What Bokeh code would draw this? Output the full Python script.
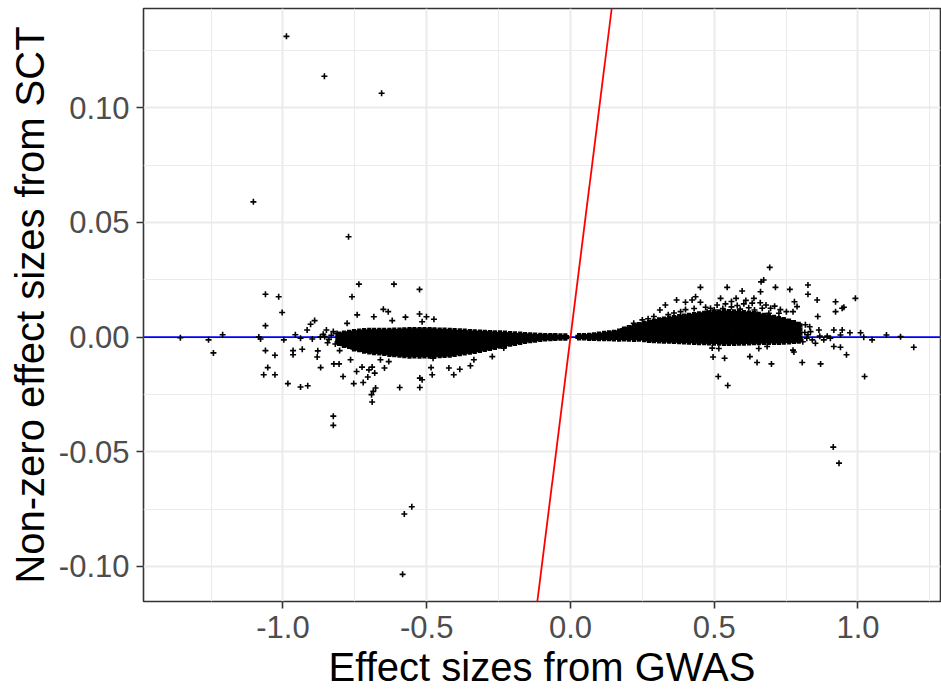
from bokeh.plotting import figure
from bokeh.models import FixedTicker, PrintfTickFormatter, Span, Slope, Range1d, ColumnDataSource
from bokeh.embed import file_html
from bokeh.resources import INLINE

# ---- data ----
x_ticks = [-1.0, -0.5, 0.0, 0.5, 1.0]
x_minor = [-1.25, -0.75, -0.25, 0.25, 0.75, 1.25]
y_ticks = [-0.10, -0.05, 0.0, 0.05, 0.10]
y_minor = [-0.075, -0.025, 0.025, 0.075, 0.125]

# isolated outliers
out_x = [-0.988, -0.856, -0.657, -1.103, -0.772, -0.690, -0.825, -0.825, -0.552, -0.578, -0.584, 0.914, 0.934,
         -1.357, -1.259, -1.242, -1.210]
out_y = [0.1312, 0.1138, 0.1064, 0.0590, 0.0438, -0.0283, -0.0345, -0.0385, -0.0740, -0.0772, -0.1035, -0.0480, -0.0550,
         -0.0003, -0.0012, -0.0069, 0.0010]

# scattered points of the negative cluster
left_x = [-1.061, -1.015, -1.003, -1.061, -1.084, -1.078, -0.997, -1.061, -1.028, -1.053, -1.067, -1.028, -0.983,
          -0.939, -0.914, -0.965, -0.965, -0.933, -0.957, -0.939, -0.916, -0.904, -0.890, -0.898, -0.870, -0.879,
          -0.881, -0.869, -0.849, -0.825, -0.823, -0.803, -0.805, -0.791, -0.777, -0.765, -0.760, -0.736, -0.742,
          -0.754, -0.744, -0.725, -0.721, -0.705, -0.701, -0.690, -0.681, -0.686, -0.692, -0.678, -0.684, -0.651,
          -0.634, -0.620, -0.614, -0.647, -0.661, -0.632, -0.594, -0.574, -0.525, -0.525, -0.516, -0.501, -0.475,
          -0.524, -0.516, -0.524, -0.485, -0.481, -0.478, -0.423, -0.406, -0.385, -0.348, -0.336, -0.272, -0.232,
          -0.855, -0.840, -0.832, -0.845, -0.860, -0.812, -0.818]
left_y = [0.0187, 0.0176, 0.0107, 0.0050, 0.0000, -0.0008, -0.0012, -0.0059, -0.0079, -0.0133, -0.0164, -0.0164,
          -0.0203, -0.0218, -0.0212, -0.0059, -0.0077, -0.0053, 0.0010, -0.0005, 0.0031, 0.0056, 0.0072, -0.0008,
          0.0000, -0.0060, -0.0087, -0.0133, 0.0031, 0.0024, -0.0117, -0.0059, -0.0117, -0.0172, 0.0060, -0.0099,
          0.0176, 0.0231, 0.0097, -0.0203, -0.0150, -0.0131, -0.0198, -0.0174, -0.0143, -0.0131, -0.0157, -0.0237,
          -0.0251, -0.0222, 0.0089, 0.0121, 0.0111, 0.0072, 0.0231, -0.0135, -0.0099, -0.0107, -0.0220, 0.0087,
          0.0208, 0.0101, 0.0067, 0.0089, 0.0078, -0.0179, -0.0186, -0.0220, -0.0133, -0.0164, -0.0092, -0.0135,
          -0.0164, -0.0140, -0.0125, -0.0099, -0.0085, -0.0048,
          0.0002, -0.0010, 0.0008, -0.0025, 0.0012, 0.0016, -0.0030]

# scattered points of the positive cluster
right_x = [0.693, 0.663, 0.672, 0.661, 0.713, 0.452, 0.545, 0.597, 0.638, 0.763, 0.826, 0.826, 0.858, 0.922, 0.991,
           0.945, 0.922, 0.951, 0.779, 0.788, 0.774, 0.751, 0.369, 0.400, 0.423, 0.435, 0.452, 0.311, 0.330, 0.383,
           0.400, 0.522, 0.576, 0.603, 0.632, 0.580, 0.667, 0.696, 0.725, 0.539, 0.510, 0.487, 0.475, 0.690, 0.649,
           0.493, 0.516, 0.496, 0.536, 0.514, 0.547, 0.624, 0.649, 0.655, 0.684, 0.699, 0.774, 0.777, 0.806, 0.870,
           0.916, 0.939, 0.960, 1.023, 1.194,
           0.835, 0.864, 0.881, 0.904, 0.939, 0.972, 1.009, 1.020, 1.049, 1.099, 1.148, 0.841, 0.852, 0.867, 0.893,
           0.832, 0.817, 0.945, 0.916, 0.860, 0.815, 0.822, 0.808, 0.826,
           0.47, 0.50, 0.53, 0.56, 0.59, 0.62, 0.64, 0.56, 0.61, 0.66, 0.68, 0.71, 0.73, 0.43, 0.36, 0.34, 0.29,
           0.27, 0.25, 0.22]
right_y = [0.0304, 0.0241, 0.0249, 0.0198, 0.0217, 0.0217, 0.0217, 0.0201, 0.0169, 0.0208, 0.0227, 0.0187, 0.0162,
           0.0154, 0.0169, 0.0126, 0.0111, 0.0130, 0.0154, 0.0133, 0.0111, 0.0111, 0.0162, 0.0152, 0.0162, 0.0176,
           0.0152, 0.0118, 0.0140, 0.0111, 0.0120, 0.0169, 0.0169, 0.0145, 0.0148, 0.0138, 0.0126, 0.0126, 0.0104,
           0.0145, 0.0140, 0.0126, 0.0111, 0.0104, 0.0100,
           -0.0048, -0.0050, -0.0087, -0.0092, -0.0172, -0.0211, -0.0085, -0.0111, -0.0050, -0.0041, -0.0117,
           -0.0057, -0.0065, -0.0111, -0.0117, -0.0041, -0.0044, -0.0077, -0.0172, -0.0044,
           0.0024, 0.0031, -0.0012, -0.0005, 0.0009, 0.0019, 0.0019, -0.0001, -0.0012, 0.0009, 0.0002, -0.0012,
           -0.0027, 0.0004, 0.0004, 0.0045, 0.0054, 0.0031, 0.0031, 0.0090, 0.0020, -0.0005, -0.0020, 0.0010,
           0.0130, 0.0118, 0.0125, 0.0132, 0.0122, 0.0128, 0.0118, 0.0155, 0.0160, 0.0150, 0.0140, 0.0135, 0.0120,
           0.0125, 0.0105, 0.0098, 0.0090, 0.0080, 0.0075, 0.0060]

# dense core of the negative cluster: column positions and the y values in each column
left_core_x = [-0.805, -0.788, -0.770, -0.753, -0.735, -0.718, -0.700, -0.683, -0.665, -0.648, -0.630, -0.613,
               -0.595, -0.578, -0.560, -0.543, -0.525, -0.508, -0.490, -0.473, -0.455, -0.438, -0.420, -0.403,
               -0.385, -0.368, -0.350, -0.333, -0.315, -0.298, -0.280, -0.263, -0.245, -0.228, -0.210, -0.193,
               -0.175, -0.158, -0.140, -0.123, -0.105, -0.088, -0.070, -0.053, -0.035, -0.018]
left_core_y = [
    [0.0008, -0.0008, -0.0022],
    [0.0012, -0.0004, -0.0020, -0.0031],
    [0.0016, 0.0000, -0.0018, -0.0036],
    [0.0019, 0.0003, -0.0014, -0.0031, -0.0046],
    [0.0021, 0.0004, -0.0014, -0.0032, -0.0050],
    [0.0023, 0.0006, -0.0011, -0.0028, -0.0045, -0.0056],
    [0.0024, 0.0007, -0.0011, -0.0029, -0.0046, -0.0060],
    [0.0024, 0.0006, -0.0012, -0.0030, -0.0048, -0.0063],
    [0.0024, 0.0008, -0.0010, -0.0028, -0.0046, -0.0064],
    [0.0024, 0.0006, -0.0012, -0.0030, -0.0048, -0.0066],
    [0.0024, 0.0008, -0.0010, -0.0028, -0.0046, -0.0062, -0.0070],
    [0.0025, 0.0007, -0.0011, -0.0029, -0.0047, -0.0065, -0.0072],
    [0.0026, 0.0009, -0.0009, -0.0027, -0.0045, -0.0063, -0.0074],
    [0.0027, 0.0009, -0.0009, -0.0027, -0.0045, -0.0063, -0.0076],
    [0.0028, 0.0010, -0.0008, -0.0026, -0.0044, -0.0062, -0.0078],
    [0.0028, 0.0011, -0.0007, -0.0025, -0.0043, -0.0061, -0.0077],
    [0.0028, 0.0010, -0.0008, -0.0026, -0.0044, -0.0062, -0.0078],
    [0.0028, 0.0011, -0.0007, -0.0025, -0.0043, -0.0061, -0.0077],
    [0.0028, 0.0010, -0.0008, -0.0026, -0.0044, -0.0062, -0.0078],
    [0.0027, 0.0011, -0.0007, -0.0025, -0.0043, -0.0061, -0.0077],
    [0.0026, 0.0009, -0.0009, -0.0027, -0.0045, -0.0063, -0.0076],
    [0.0025, 0.0010, -0.0008, -0.0026, -0.0044, -0.0062, -0.0075],
    [0.0024, 0.0008, -0.0010, -0.0028, -0.0046, -0.0064, -0.0074],
    [0.0023, 0.0007, -0.0011, -0.0029, -0.0047, -0.0063, -0.0070],
    [0.0022, 0.0006, -0.0012, -0.0030, -0.0048, -0.0067],
    [0.0021, 0.0005, -0.0013, -0.0031, -0.0049, -0.0064],
    [0.0019, 0.0004, -0.0014, -0.0032, -0.0048, -0.0061],
    [0.0018, 0.0002, -0.0016, -0.0034, -0.0050, -0.0057],
    [0.0017, 0.0001, -0.0017, -0.0035, -0.0053],
    [0.0016, 0.0000, -0.0018, -0.0034, -0.0049],
    [0.0015, -0.0001, -0.0019, -0.0034, -0.0044],
    [0.0014, -0.0002, -0.0020, -0.0035, -0.0040],
    [0.0013, -0.0003, -0.0019, -0.0035],
    [0.0012, -0.0003, -0.0018, -0.0031],
    [0.0010, -0.0005, -0.0019, -0.0026],
    [0.0009, -0.0005, -0.0022],
    [0.0008, -0.0005, -0.0018],
    [0.0006, -0.0005, -0.0014],
    [0.0005, -0.0005, -0.0011],
    [0.0004, -0.0004, -0.0008],
    [0.0003, -0.0005],
    [0.0002, -0.0003],
    [0.0001, -0.0002],
    [0.0001, -0.0001],
    [0.0000],
    [0.0000],
]

# dense core of the positive cluster
right_core_x = [0.030, 0.047, 0.065, 0.082, 0.099, 0.117, 0.134, 0.151, 0.169, 0.186, 0.203, 0.221, 0.238, 0.256,
                0.273, 0.290, 0.308, 0.325, 0.343, 0.360, 0.378, 0.395, 0.412, 0.430, 0.447, 0.465, 0.482, 0.499,
                0.517, 0.534, 0.551, 0.569, 0.586, 0.603, 0.621, 0.638, 0.655, 0.673, 0.690, 0.708, 0.725, 0.742,
                0.760, 0.777, 0.794]
right_core_y = [
    [0.0001],
    [0.0002],
    [0.0003, -0.0001],
    [0.0005, -0.0001],
    [0.0008, -0.0002],
    [0.0011, -0.0002],
    [0.0013, -0.0002],
    [0.0016, 0.0000, -0.0003],
    [0.0021, 0.0004, -0.0004],
    [0.0030, 0.0013, -0.0003],
    [0.0036, 0.0019, 0.0002, -0.0004],
    [0.0042, 0.0025, 0.0008, -0.0005],
    [0.0049, 0.0031, 0.0013, -0.0004],
    [0.0054, 0.0036, 0.0018, 0.0001, -0.0006],
    [0.0059, 0.0041, 0.0023, 0.0005, -0.0009],
    [0.0065, 0.0047, 0.0029, 0.0011, -0.0007, -0.0011],
    [0.0070, 0.0052, 0.0034, 0.0016, -0.0002, -0.0012],
    [0.0074, 0.0056, 0.0038, 0.0020, 0.0002, -0.0013],
    [0.0077, 0.0059, 0.0041, 0.0023, 0.0005, -0.0013],
    [0.0080, 0.0062, 0.0044, 0.0026, 0.0008, -0.0010, -0.0014],
    [0.0084, 0.0066, 0.0048, 0.0030, 0.0012, -0.0006, -0.0015],
    [0.0087, 0.0069, 0.0051, 0.0033, 0.0015, -0.0003, -0.0016],
    [0.0090, 0.0072, 0.0054, 0.0036, 0.0018, 0.0000, -0.0017],
    [0.0093, 0.0075, 0.0057, 0.0039, 0.0021, 0.0003, -0.0015, -0.0018],
    [0.0096, 0.0078, 0.0060, 0.0042, 0.0024, 0.0006, -0.0012, -0.0019],
    [0.0099, 0.0081, 0.0063, 0.0045, 0.0027, 0.0009, -0.0009, -0.0019],
    [0.0101, 0.0083, 0.0065, 0.0047, 0.0029, 0.0011, -0.0007, -0.0020],
    [0.0103, 0.0085, 0.0067, 0.0049, 0.0031, 0.0013, -0.0005, -0.0021],
    [0.0105, 0.0087, 0.0069, 0.0051, 0.0033, 0.0015, -0.0003, -0.0021],
    [0.0106, 0.0088, 0.0070, 0.0052, 0.0034, 0.0016, -0.0002, -0.0022],
    [0.0106, 0.0088, 0.0070, 0.0052, 0.0034, 0.0016, -0.0002, -0.0022],
    [0.0105, 0.0087, 0.0069, 0.0051, 0.0033, 0.0015, -0.0003, -0.0022],
    [0.0104, 0.0086, 0.0068, 0.0050, 0.0032, 0.0014, -0.0004, -0.0021],
    [0.0102, 0.0084, 0.0066, 0.0048, 0.0030, 0.0012, -0.0006, -0.0021],
    [0.0100, 0.0082, 0.0064, 0.0046, 0.0028, 0.0010, -0.0008, -0.0020],
    [0.0098, 0.0080, 0.0062, 0.0044, 0.0026, 0.0008, -0.0010, -0.0019],
    [0.0094, 0.0076, 0.0058, 0.0040, 0.0022, 0.0004, -0.0014, -0.0019],
    [0.0090, 0.0072, 0.0054, 0.0036, 0.0018, 0.0000, -0.0018],
    [0.0086, 0.0068, 0.0050, 0.0032, 0.0014, -0.0004, -0.0018],
    [0.0081, 0.0063, 0.0045, 0.0027, 0.0009, -0.0009, -0.0018],
    [0.0076, 0.0058, 0.0040, 0.0022, 0.0004, -0.0014, -0.0018],
    [0.0071, 0.0053, 0.0035, 0.0017, -0.0001, -0.0017],
    [0.0065, 0.0047, 0.0029, 0.0011, -0.0007, -0.0016],
    [0.0058, 0.0040, 0.0022, 0.0004, -0.0014],
    [0.0051, 0.0033, 0.0015, -0.0003, -0.0013],
]

# ---- build tables ----
core_x, core_y = [], []
for cx, ys in list(zip(left_core_x, left_core_y)) + list(zip(right_core_x, right_core_y)):
    for yy in ys:
        core_x.append(cx)
        core_y.append(yy)
sparse = ColumnDataSource(dict(x=out_x + left_x + right_x, y=out_y + left_y + right_y))
dense = ColumnDataSource(dict(x=core_x, y=core_y))

FONT = "Liberation Sans"

p = figure(width=941, height=691, output_backend="svg", toolbar_location=None,
           x_range=Range1d(-1.4852, 1.2870), y_range=Range1d(-0.11535, 0.14335),
           min_border_left=143, min_border_right=1, min_border_top=8, min_border_bottom=88,
           background_fill_color="white", border_fill_color="white")

p.outline_line_color = "#333333"
p.outline_line_width = 1.6

# lines under the points
p.add_layout(Span(location=0, dimension="width", line_color="#0000FF", line_width=1.6, level="underlay"))
p.add_layout(Slope(gradient=1.0, y_intercept=0.0, line_color="#FF0000", line_width=1.8, level="underlay"))

p.scatter("x", "y", source=dense, marker="cross", size=7.5, line_color="black", line_width=4.2)
p.scatter("x", "y", source=sparse, marker="cross", size=6, line_color="black", line_width=1.6)

# axes
p.xaxis.ticker = FixedTicker(ticks=x_ticks, minor_ticks=x_minor)
p.yaxis.ticker = FixedTicker(ticks=y_ticks, minor_ticks=y_minor)
p.xaxis.formatter = PrintfTickFormatter(format="%.1f")
p.yaxis.formatter = PrintfTickFormatter(format="%.2f")

for ax in (p.xaxis[0], p.yaxis[0]):
    ax.axis_line_color = None
    ax.major_tick_line_color = "#333333"
    ax.major_tick_line_width = 1.6
    ax.major_tick_out = 7
    ax.major_tick_in = 0
    ax.minor_tick_line_color = None
    ax.major_label_text_font = FONT
    ax.major_label_text_font_size = "31px"
    ax.major_label_text_color = "#4D4D4D"
    ax.major_label_standoff = 7
    ax.axis_label_text_font = FONT
    ax.axis_label_text_font_size = "40px"
    ax.axis_label_text_font_style = "normal"
    ax.axis_label_text_color = "black"
    ax.axis_label_standoff = 4

p.xaxis.axis_label = "Effect sizes from GWAS"
p.yaxis.axis_label = "Non-zero effect sizes from SCT"

for g in (p.xgrid[0], p.ygrid[0]):
    g.grid_line_color = "#EBEBEB"
    g.grid_line_width = 2
    g.minor_grid_line_color = "#EBEBEB"
    g.minor_grid_line_width = 1

open("out.html", "w").write(file_html(p, INLINE))
